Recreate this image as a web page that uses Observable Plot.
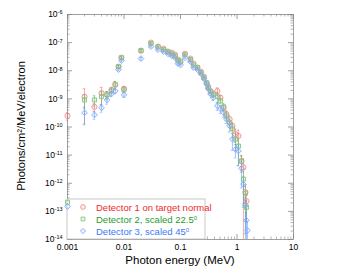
<!DOCTYPE html>
<html><head><meta charset="utf-8">
<script src="https://cdn.jsdelivr.net/npm/d3@7"></script>
<script src="https://cdn.jsdelivr.net/npm/@observablehq/plot@0.6"></script>
<style>
body{margin:0;background:#fff}
#chart svg{font-family:"Liberation Sans",Arial,Helvetica,sans-serif;overflow:visible}
</style>
</head><body><div id="chart"></div>
<script>
// Photon energy (MeV)
const energy = [0.001,0.002,0.003,0.004,0.005,0.006,0.007,0.008,0.009,0.01,
  0.02,0.03,0.04,0.05,0.06,0.07,0.08,0.09,0.1,0.12,
  0.15,0.17,0.2,0.23,0.26,0.29,0.31,0.34,0.38,0.45,
  0.51,0.58,0.65,0.74,0.83,0.94,1.06,1.2,1.3,1.41,
  1.47,1.53];
// Detector 1 on target normal
const det1 = [2.5e-10,1.2e-9,5.2e-10,1.6e-9,1.4e-9,2.1e-9,3.2e-9,1.4e-8,2.9e-8,2.3e-9,
  5.2e-8,1.0e-7,7.2e-8,6.1e-8,4.8e-8,4.4e-8,3.7e-8,2.5e-8,2.1e-8,4.0e-8,
  2.7e-8,1.8e-8,1.3e-8,9.2e-9,6.1e-9,3.7e-9,2.7e-9,1.9e-9,1.5e-9,1.9e-9,
  1.1e-9,4.8e-10,2.9e-10,1.9e-10,1.1e-10,5.6e-11,4.8e-11,6.1e-12,3.7e-12,4.8e-13,
  2.3e-13,null];
// Detector 2, scaled 22.5°
const det2 = [2.1e-13,9.2e-10,9.2e-10,1.2e-9,1.4e-9,1.9e-9,3.2e-9,1.4e-8,2.9e-8,2.1e-9,
  5.2e-8,9.2e-8,7.2e-8,5.6e-8,4.8e-8,4.0e-8,3.4e-8,2.3e-8,2.1e-8,3.7e-8,
  2.5e-8,1.6e-8,1.3e-8,8.5e-9,5.6e-9,3.7e-9,2.5e-9,1.8e-9,1.4e-9,1.2e-9,
  8.5e-10,5.2e-10,2.5e-10,1.4e-10,8.5e-11,3.7e-11,2.1e-11,6.1e-12,1.4e-12,4.4e-13,
  1.4e-13,null];
// Detector 3, scaled 45°
const det3 = [1.5e-13,3.2e-10,2.7e-10,4.8e-10,9.2e-10,1.5e-9,1.9e-9,1.1e-8,2.3e-8,1.4e-9,
  2.7e-8,7.2e-8,5.6e-8,4.8e-8,4.0e-8,3.4e-8,2.9e-8,1.8e-8,1.6e-8,2.9e-8,
  2.1e-8,1.3e-8,1.1e-8,7.8e-9,5.2e-9,3.4e-9,2.3e-9,1.5e-9,1.1e-9,5.6e-10,
  4.4e-10,3.2e-10,1.9e-10,1.1e-10,3.7e-11,1.6e-11,1.4e-11,3.4e-12,9.2e-13,1.6e-13,
  4.8e-14,2.1e-14];
// relative uncertainties
const err1 = [0.3,0.9,0.3,0.6,0.3,0.2,0.3,0.1,0.1,0.2,
  0.1,0.05,0.05,0.05,0.05,0.05,0.05,0.05,0.05,0.05,
  0.05,0.05,0.05,0.05,0.1,0.1,0.1,0.1,0.2,0.3,
  0.2,0.2,0.3,0.3,0.3,0.5,0.6,0.5,1.0,0.6,
  0.8,0];
const err2 = [0,0.5,0.4,0.5,0.3,0.2,0.3,0.1,0.1,0.2,
  0.1,0.05,0.05,0.05,0.05,0.05,0.05,0.05,0.05,0.05,
  0.05,0.05,0.05,0.05,0.1,0.1,0.1,0.1,0.2,0.4,
  0.2,0.3,0.3,0.3,0.5,0.6,0.8,0.6,0.9,1.0,
  0.7,0];
const err3 = [0,0.6,0.3,0.3,0.3,0.2,0.2,0.1,0.1,0.2,
  0.1,0.05,0.05,0.05,0.05,0.05,0.05,0.05,0.05,0.05,
  0.05,0.05,0.05,0.05,0.1,0.1,0.1,0.1,0.2,0.3,
  0.3,0.3,0.3,0.4,0.6,0.5,0.7,0.8,0.8,0.9,
  0.9,1.0];
const seriesNames = ["Detector 1 on target normal","Detector 2, scaled 22.5","Detector 3, scaled 45"];
const seriesSuffix = ["","0","0"];
const xTicks = [0.001,0.01,0.1,1,10];
const xTickLabels = ["0.001","0.01","0.1","1","10"];
const yTicks = [1e-14,1e-13,1e-12,1e-11,1e-10,1e-9,1e-8,1e-7,1e-6];
const yExponents = ["-14","-13","-12","-11","-10","-9","-8","-7","-6"];
const xLabel = "Photon energy (MeV)";
const yLabel = "Photons/cm²/MeV/electron";

const markerStroke = ["#f29090","#80c680","#80adff"];
const barStroke = ["#f07070","#5cb45c","#5a93ff"];
const textColor = ["#ee2a2a","#1f9a2e","#3a78f5"];
const symbols = ["circle","square2","diamond2"];

const W = 355, H = 280, mL = 67, mR = 62, mT = 14, mB = 41;
const pw = W - mL - mR, ph = H - mT - mB;
const yMin = yTicks[0];

const all = [det1, det2, det3];
const errs = [err1, err2, err3];
const series = all.map((vals, s) => energy.map((E, i) => {
  const v = vals[i];
  if (v == null) return null;
  const e = errs[s][i];
  return {E, v, e, hi: v * (1 + e), lo: Math.max(v * (1 - e), yMin)};
}).filter(d => d));

// tick positions
const minorX = [], minorY = [];
for (let p = -3; p < 1; p++) for (let m = 2; m <= 9; m++) minorX.push(m * Math.pow(10, p));
for (let p = -14; p < -6; p++) for (let m = 2; m <= 9; m++) minorY.push(+(m * Math.pow(10, p)).toPrecision(3));

const marks = [];
// inward ticks on all four sides
marks.push(Plot.tickX(xTicks, {x: d => d, insetTop: ph - 5, stroke: "#888", strokeWidth: 0.8}));
marks.push(Plot.tickX(xTicks, {x: d => d, insetBottom: ph - 5, stroke: "#888", strokeWidth: 0.8}));
marks.push(Plot.tickX(minorX, {x: d => d, insetTop: ph - 2.5, stroke: "#888", strokeWidth: 0.6}));
marks.push(Plot.tickX(minorX, {x: d => d, insetBottom: ph - 2.5, stroke: "#888", strokeWidth: 0.6}));
marks.push(Plot.tickY(yTicks, {y: d => d, insetRight: pw - 5, stroke: "#888", strokeWidth: 0.8}));
marks.push(Plot.tickY(yTicks, {y: d => d, insetLeft: pw - 5, stroke: "#888", strokeWidth: 0.8}));
marks.push(Plot.tickY(minorY, {y: d => d, insetRight: pw - 2.5, stroke: "#888", strokeWidth: 0.6}));
marks.push(Plot.tickY(minorY, {y: d => d, insetLeft: pw - 2.5, stroke: "#888", strokeWidth: 0.6}));

series.forEach((rows, s) => {
  const eb = rows.filter(d => d.e > 0);
  marks.push(Plot.ruleX(eb, {x: "E", y1: "lo", y2: "hi", stroke: barStroke[s], strokeWidth: 0.7, strokeOpacity: 0.8}));
  marks.push(Plot.ruleY(eb, {y: "hi", x1: d => d.E / 1.05, x2: d => d.E * 1.05, stroke: barStroke[s], strokeWidth: 0.7, strokeOpacity: 0.8}));
  marks.push(Plot.ruleY(eb.filter(d => d.lo > yMin), {y: "lo", x1: d => d.E / 1.05, x2: d => d.E * 1.05, stroke: barStroke[s], strokeWidth: 0.7, strokeOpacity: 0.8}));
});
series.forEach((rows, s) => {
  marks.push(Plot.dot(rows, {x: "E", y: "v", symbol: () => symbols[s], r: 2.6, stroke: markerStroke[s], strokeWidth: 0.9, fill: markerStroke[s], fillOpacity: 0.15}));
});
marks.push(Plot.frame({stroke: "#888", strokeWidth: 0.8}));
marks.push(Plot.axisX({ticks: xTicks, tickFormat: d => xTickLabels[xTicks.indexOf(d)], tickSize: 0, tickPadding: 4, fontSize: 8.5, label: null}));
marks.push(Plot.axisY({ticks: yTicks, tickFormat: d => "10" + yExponents[yTicks.indexOf(d)], tickSize: 0, tickPadding: 5, fontSize: 8.5, label: null}));

const plot = Plot.plot({
  width: W, height: H,
  marginLeft: mL, marginRight: mR, marginTop: mT, marginBottom: mB,
  x: {type: "log", domain: [0.001, 10]},
  y: {type: "log", domain: [1e-14, 1e-6]},
  symbol: {type: "identity"},
  marks
});

const svg = d3.select(plot);
// superscript exponents on y labels
svg.selectAll('g[aria-label="y-axis tick label"] text').each(function() {
  const t = d3.select(this);
  const txt = t.text();
  const exp = txt.slice(2);
  t.text("10");
  t.append("tspan").attr("dy", "-0.5em").attr("font-size", 5.5).text(exp);
});

// axis titles
svg.append("text").attr("x", 180).attr("y", 264).attr("text-anchor", "middle")
  .attr("font-size", 11.5).attr("fill", "#000").text(xLabel);
svg.append("text").attr("transform", "translate(25,126) rotate(-90)").attr("text-anchor", "middle")
  .attr("font-size", 11).attr("fill", "#000").text(yLabel);

// legend inside the frame, bottom-left
const lg = svg.append("g");
lg.append("rect").attr("x", mL).attr("y", 199).attr("width", 138).attr("height", H - mB - 199)
  .attr("fill", "#fff").attr("stroke", "#bbb").attr("stroke-width", 0.8);
const symGen = [d3.symbolCircle, d3.symbolSquare2, d3.symbolDiamond2];
seriesNames.forEach((name, s) => {
  const cy = 207 + s * 12;
  lg.append("path").attr("transform", `translate(83,${cy})`)
    .attr("d", d3.symbol(symGen[s], 18)())
    .attr("fill", markerStroke[s]).attr("fill-opacity", 0.15).attr("stroke", markerStroke[s]).attr("stroke-width", 0.9);
  const t = lg.append("text").attr("x", 96).attr("y", cy + 3.5).attr("text-anchor", "start")
    .attr("font-size", 9.5).attr("fill", textColor[s]).text(name);
  if (seriesSuffix[s]) t.append("tspan").attr("dy", "-0.5em").attr("font-size", 6).text(seriesSuffix[s]);
});
// data markers stay visible above the legend box
svg.selectAll('g[aria-label="dot"]').raise();

document.getElementById("chart").appendChild(plot);
</script>
</body></html>
